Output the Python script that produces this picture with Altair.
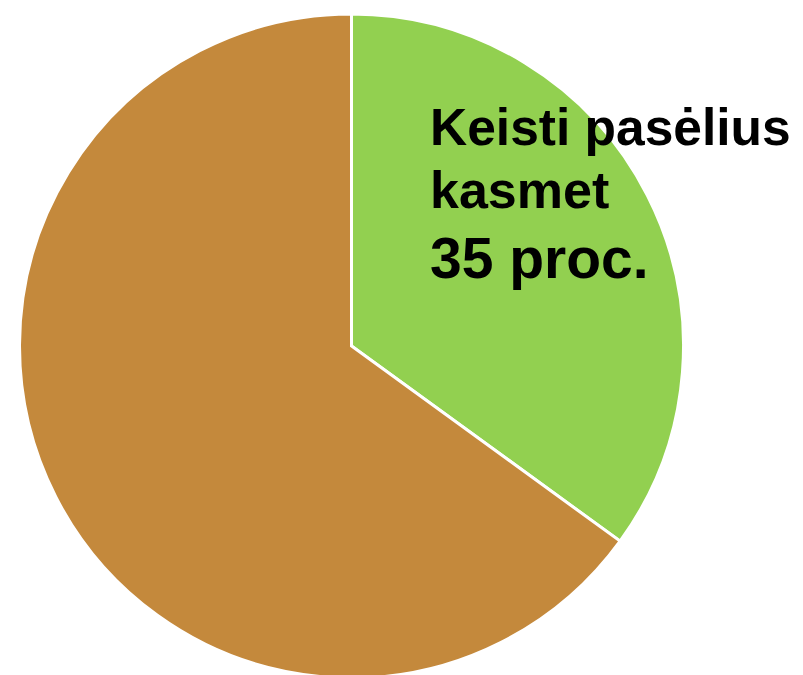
import altair as alt
import pandas as pd

categories = ["Keisti pasėlius kasmet", "Kita"]
values = [35, 65]
colors = ["#92D050", "#C4893C"]
label_lines = ["Keisti pasėlius", "kasmet", "35 proc."]

pie_df = pd.DataFrame({"cat": categories, "val": values, "idx": list(range(len(values)))})

cx, cy, r = 343.5, 338, 332

pie = alt.Chart(pie_df).mark_arc(outerRadius=r, stroke="white", strokeWidth=3).encode(
    theta=alt.Theta("val:Q", stack=True),
    color=alt.Color("cat:N", scale=alt.Scale(domain=categories, range=colors), legend=None),
    order=alt.Order("idx:Q"),
    x=alt.value(cx),
    y=alt.value(cy),
)

def line(text, y, size):
    return alt.Chart(pd.DataFrame({"t": [text]})).mark_text(
        align="left", baseline="alphabetic", font="Liberation Sans", fontWeight="bold",
        fontSize=size, color="black"
    ).encode(text="t:N", x=alt.value(422), y=alt.value(y))

chart = alt.layer(
    pie,
    line(label_lines[0], 137, 51.5),
    line(label_lines[1], 200, 52),
    line(label_lines[2], 270, 57),
).properties(
    width=787, height=667, padding=0, autosize=alt.AutoSizeParams(type="none")
).configure_view(stroke=None)

chart.save("out.html", embed_options={"renderer": "svg", "actions": False})
